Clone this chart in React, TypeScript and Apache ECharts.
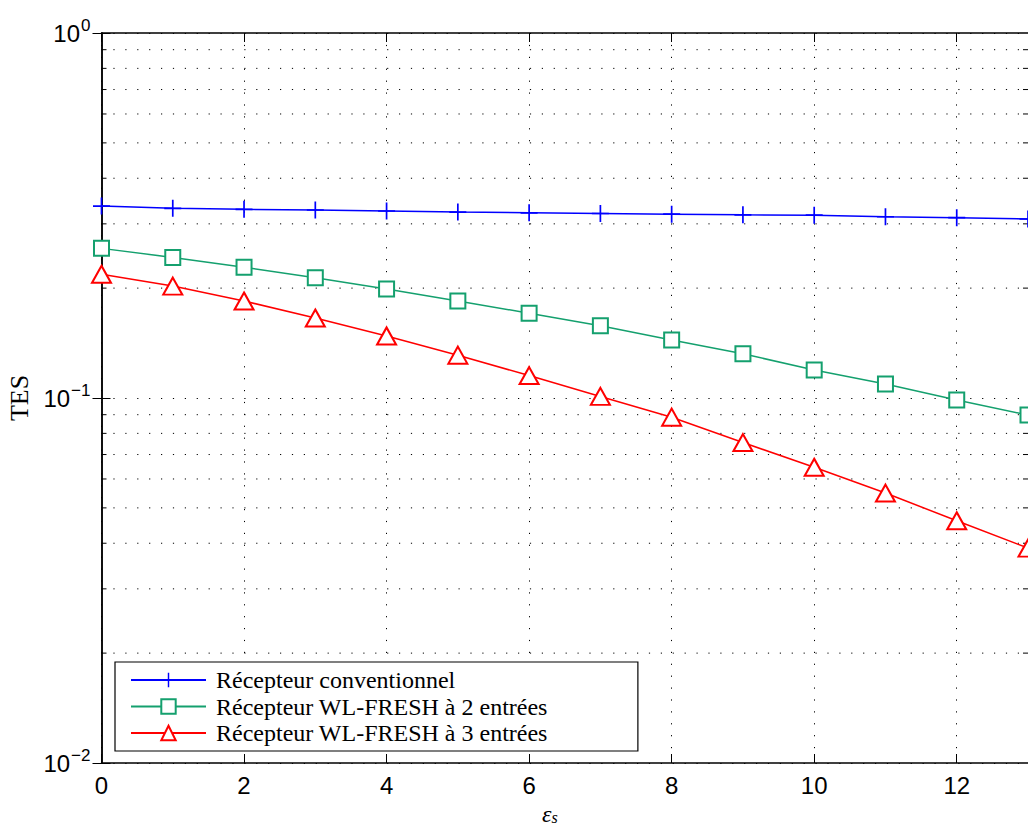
import React, { useEffect, useRef } from "react";
import * as echarts from "echarts";

const xValues = [0, 1, 2, 3, 4, 5, 6, 7, 8, 9, 10, 11, 12, 13];
const conventional = [0.3357, 0.3309, 0.3288, 0.3274, 0.3253, 0.3232, 0.3216, 0.3202, 0.3188, 0.3175, 0.3168, 0.3137, 0.3119, 0.3093];
const fresh2 = [0.257, 0.2428, 0.2281, 0.2136, 0.1989, 0.1845, 0.1707, 0.1578, 0.1441, 0.1322, 0.1193, 0.1093, 0.0987, 0.0898];
const fresh3 = [0.2183, 0.2026, 0.1844, 0.1656, 0.1479, 0.1310, 0.1152, 0.1010, 0.0886, 0.0755, 0.0646, 0.0549, 0.0461, 0.0388];
const seriesNames = [
  "Récepteur conventionnel",
  "Récepteur WL-FRESH à 2 entrées",
  "Récepteur WL-FRESH à 3 entrées",
];
const minorYValues = [0.02, 0.03, 0.04, 0.05, 0.06, 0.07, 0.08, 0.09, 0.2, 0.3, 0.4, 0.5, 0.6, 0.7, 0.8, 0.9];
const xTickInterval = 2;

const BLUE = "#0000ff";
const GREEN = "#14a06e";
const RED = "#ff0000";
const PLUS = "path://M9,0H11V20H9Z M0,9H20V11H0Z";
const DOT: number[] = [1.2, 10.7];

export default function App() {
  const ref = useRef<HTMLDivElement>(null);
  useEffect(() => {
    if (!ref.current) return;
    const chart = echarts.init(ref.current, null, { renderer: "svg" });
    const pairs = (arr: number[]) => xValues.map((x, i) => [x, arr[i]]);
    const sansLabel = { fontFamily: "Liberation Sans", fontSize: 24, color: "#000" };
    chart.setOption({
      animation: false,
      backgroundColor: "#fff",
      grid: { left: 101.5, right: 0, top: 33, bottom: 64, containLabel: false, outerBoundsMode: "none" },
      xAxis: [
        {
          type: "value",
          min: 0,
          max: 13,
          interval: xTickInterval,
          name: "{e|ε}{s|s}",
          nameLocation: "middle",
          nameGap: 35,
          nameTextStyle: {
            padding: [0, 30, 0, 0],
            rich: {
              e: { fontFamily: "Liberation Serif", fontStyle: "italic", fontSize: 24, color: "#000" },
              s: { fontFamily: "Liberation Serif", fontStyle: "italic", fontSize: 16, color: "#000", padding: [8, 0, 0, 0] },
            },
          },
          axisLine: { show: true, lineStyle: { color: "#000", width: 1.5 } },
          axisTick: { show: true, inside: true, length: 9, lineStyle: { color: "#000", width: 1 } },
          axisLabel: { ...sansLabel, margin: 10, showMaxLabel: false },
          splitLine: { show: true, lineStyle: { color: "#000", width: 1, type: DOT } },
        },
        {
          type: "value",
          position: "top",
          min: 0,
          max: 13,
          interval: xTickInterval,
          axisLine: { show: true, lineStyle: { color: "#000", width: 1.5 } },
          axisTick: { show: true, inside: true, length: 9, lineStyle: { color: "#000", width: 1 } },
          axisLabel: { show: false },
          splitLine: { show: false },
        },
      ],
      yAxis: [
        {
          type: "log",
          logBase: 10,
          min: 0.01,
          max: 1,
          name: "TES",
          nameLocation: "middle",
          nameGap: 66,
          nameTextStyle: { fontFamily: "Liberation Serif", fontSize: 26, color: "#000" },
          axisLine: { show: true, lineStyle: { color: "#000", width: 1.5 } },
          axisTick: { show: true, inside: true, length: 9, lineStyle: { color: "#000", width: 1 } },
          axisLabel: {
            margin: 11,
            formatter: (v: number) => {
              const e = Math.round(Math.log10(v));
              const exp = e === 0 ? "0" : "−" + String(-e);
              return "{b|10}{s|" + exp + "}";
            },
            rich: {
              b: { fontFamily: "Liberation Sans", fontSize: 24, color: "#000" },
              s: { fontFamily: "Liberation Sans", fontSize: 17, color: "#000", padding: [0, 0, 16, 1] },
            },
          },
          splitLine: { show: true, lineStyle: { color: "#000", width: 1, type: DOT } },
        },
        {
          type: "log",
          logBase: 10,
          min: 0.01,
          max: 1,
          position: "right",
          axisLine: { show: true, lineStyle: { color: "#000", width: 1.5 } },
          axisTick: { show: true, inside: true, length: 9, lineStyle: { color: "#000", width: 1 } },
          axisLabel: { show: false },
          splitLine: { show: false },
        },
      ],
      legend: {
        orient: "vertical",
        left: 115,
        top: 662,
        data: seriesNames,
        selectedMode: false,
        backgroundColor: "#fff",
        borderColor: "#000",
        borderWidth: 1.2,
        borderRadius: 0,
        padding: [6, 90, 6, 15],
        itemGap: 2.5,
        itemWidth: 75,
        itemHeight: 18,
        textStyle: { fontFamily: "Liberation Serif", fontSize: 24, color: "#000", padding: [0, 0, 0, 5] },
      },
      series: [
        {
          type: "custom",
          silent: true,
          z: 1,
          xAxisIndex: 0,
          yAxisIndex: 0,
          data: minorYValues.map((v) => [0, v]),
          renderItem: (params: any, api: any) => {
            const cs = params.coordSys;
            const y = api.coord([0, api.value(1)])[1];
            return {
              type: "group",
              children: [
                { type: "line", shape: { x1: cs.x, y1: y, x2: cs.x + cs.width, y2: y }, style: { stroke: "#000", lineWidth: 1, lineDash: DOT } },
                { type: "line", shape: { x1: cs.x, y1: y, x2: cs.x + 5, y2: y }, style: { stroke: "#000", lineWidth: 1 } },
                { type: "line", shape: { x1: cs.x + cs.width - 5, y1: y, x2: cs.x + cs.width, y2: y }, style: { stroke: "#000", lineWidth: 1 } },
              ],
            };
          },
        },
        {
          name: seriesNames[0],
          type: "line",
          z: 3,
          data: pairs(conventional),
          symbol: PLUS,
          symbolSize: 17,
          lineStyle: { color: BLUE, width: 1.5 },
          itemStyle: { color: BLUE, borderWidth: 0 },
        },
        {
          name: seriesNames[1],
          type: "line",
          z: 3,
          data: pairs(fresh2),
          symbol: "emptyRect",
          symbolSize: 15,
          lineStyle: { color: GREEN, width: 1.5 },
          itemStyle: { color: GREEN, borderWidth: 1.5 },
        },
        {
          name: seriesNames[2],
          type: "line",
          z: 3,
          data: pairs(fresh3),
          symbol: "emptyTriangle",
          symbolSize: [19, 17],
          lineStyle: { color: RED, width: 1.5 },
          itemStyle: { color: RED, borderWidth: 1.5 },
        },
      ],
    });
    return () => chart.dispose();
  }, []);
  return (
    <div
      ref={ref}
      style={{ position: "fixed", left: 0, top: 0, width: 1028, height: 827, background: "#fff" }}
    />
  );
}
